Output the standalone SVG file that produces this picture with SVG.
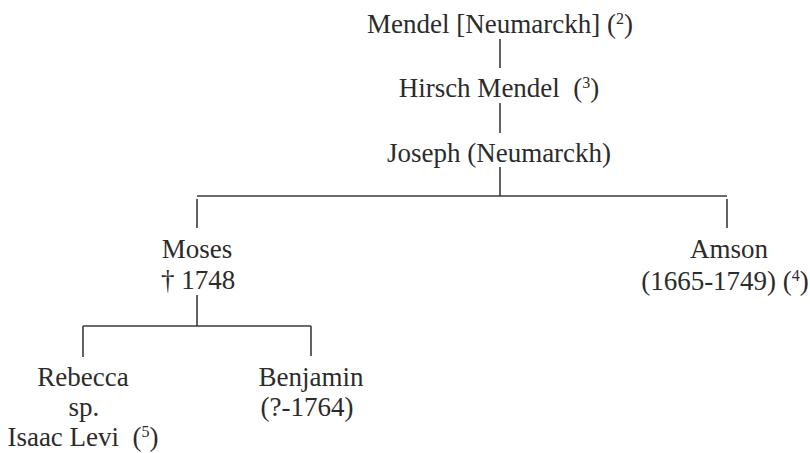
<svg xmlns="http://www.w3.org/2000/svg" width="810" height="453" viewBox="0 0 810 453">
<style>
.t{font-family:"Liberation Serif","Times New Roman",serif;font-size:27px;fill:#2b2b2b;text-anchor:middle}
.sup{font-size:16px}
.c line{stroke:#3a3a3a;stroke-width:1.6;fill:none}
</style>
<rect width="810" height="453" fill="#fff"/>
<g class="c" id="connectors">
<line x1="500" y1="39" x2="500" y2="68"/>
<line x1="500" y1="103" x2="500" y2="133"/>
<line x1="500" y1="167" x2="500" y2="196"/>
<line x1="197" y1="196" x2="727" y2="196"/>
<line x1="197" y1="199" x2="197" y2="228"/>
<line x1="727" y1="199" x2="727" y2="228"/>
<line x1="197" y1="295" x2="197" y2="326"/>
<line x1="83" y1="326" x2="311" y2="326"/>
<line x1="83" y1="326" x2="83" y2="357"/>
<line x1="311" y1="326" x2="311" y2="356"/>
</g>
<g id="mendel"><text class="t" x="500" y="33">Mendel [Neumarckh]&#160;(<tspan class="sup" dy="-9">2</tspan><tspan dy="9">)</tspan></text></g>
<g id="hirsch"><text class="t" x="499" y="97">Hirsch Mendel&#160; (<tspan class="sup" dy="-9">3</tspan><tspan dy="9">)</tspan></text></g>
<g id="joseph"><text class="t" x="499" y="162">Joseph (Neumarckh)</text></g>
<g id="moses"><text class="t" x="197" y="258">Moses</text><text class="t" x="198" y="289">† 1748</text></g>
<g id="amson"><text class="t" x="729" y="258">Amson</text><text class="t" x="725" y="290">(1665-1749) (<tspan class="sup" dy="-9">4</tspan><tspan dy="9">)</tspan></text></g>
<g id="rebecca"><text class="t" x="83" y="386">Rebecca</text><text class="t" x="84" y="416">sp.</text><text class="t" x="83" y="446">Isaac Levi&#160; (<tspan class="sup" dy="-9">5</tspan><tspan dy="9">)</tspan></text></g>
<g id="benjamin"><text class="t" x="311" y="386">Benjamin</text><text class="t" x="307" y="416">(?-1764)</text></g>
</svg>
